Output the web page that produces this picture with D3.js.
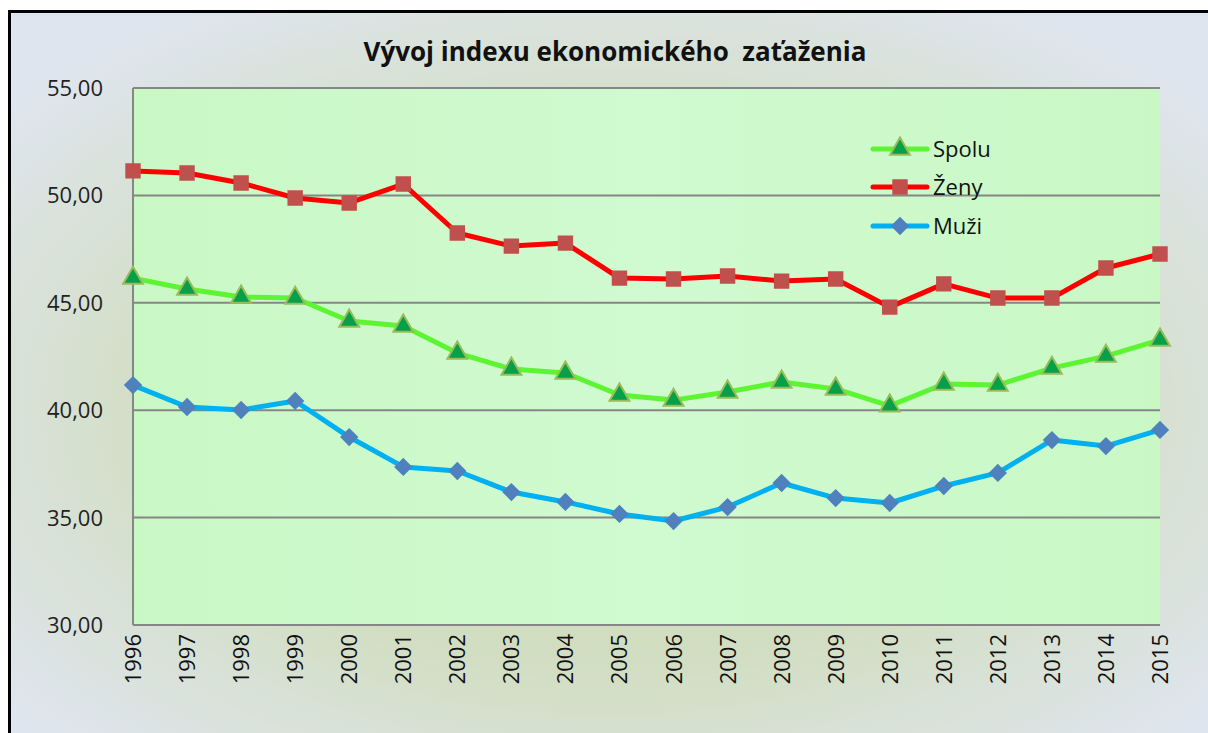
<!DOCTYPE html>
<html>
<head>
<meta charset="utf-8">
<script src="https://cdn.jsdelivr.net/npm/d3@7"></script>
<style>
  body { margin: 0; background: #fff; }
  svg { display: block; font-family: "Open Sans", "Noto Sans", sans-serif; }
</style>
</head>
<body>
<svg id="chart" width="1208" height="733"></svg>
<script>
var years = [1996, 1997, 1998, 1999, 2000, 2001, 2002, 2003, 2004, 2005,
             2006, 2007, 2008, 2009, 2010, 2011, 2012, 2013, 2014, 2015];
var spolu = [46.15, 45.64, 45.27, 45.22, 44.15, 43.92, 42.66, 41.92, 41.73, 40.71,
             40.47, 40.85, 41.31, 40.99, 40.20, 41.22, 41.17, 41.96, 42.52, 43.27];
var zeny  = [51.14, 51.04, 50.58, 49.88, 49.65, 50.53, 48.25, 47.64, 47.78, 46.15,
             46.11, 46.25, 46.01, 46.11, 44.80, 45.88, 45.22, 45.22, 46.62, 47.27];
var muzi  = [41.17, 40.15, 40.01, 40.43, 38.75, 37.36, 37.17, 36.19, 35.73, 35.17,
             34.84, 35.49, 36.61, 35.91, 35.68, 36.47, 37.08, 38.61, 38.33, 39.08];
var yTicks = [30, 35, 40, 45, 50, 55];
var title = "Vývoj indexu ekonomického  zaťaženia";

function draw() {
  var svg = d3.select("#chart");
  var defs = svg.append("defs");

  // outer background gradient
  var bg = defs.append("radialGradient").attr("id", "bg")
    .attr("cx", "50%").attr("cy", "55%").attr("r", "65%");
  bg.append("stop").attr("offset", "0%").attr("stop-color", "#c9d9a8");
  bg.append("stop").attr("offset", "55%").attr("stop-color", "#d2dec2");
  bg.append("stop").attr("offset", "100%").attr("stop-color", "#dfe5ee");

  var pg = defs.append("linearGradient").attr("id", "plotbg");
  pg.append("stop").attr("offset", "0%").attr("stop-color", "#c9f8c5");
  pg.append("stop").attr("offset", "50%").attr("stop-color", "#d0fad0");
  pg.append("stop").attr("offset", "100%").attr("stop-color", "#c9f8c5");

  svg.append("rect").attr("x", 10).attr("y", 12).attr("width", 1198).attr("height", 721)
    .attr("fill", "url(#bg)");
  // black frame (left and top)
  svg.append("path").attr("d", "M9.5,733V11.5H1208")
    .attr("stroke", "#000").attr("stroke-width", 3).attr("fill", "none");

  var pLeft = 133, pRight = 1160, pTop = 88, pBottom = 625;

  var x = d3.scalePoint().domain(years).range([pLeft, pRight]);
  var y = d3.scaleLinear().domain([30, 55]).range([pBottom, pTop]);

  svg.append("rect").attr("x", pLeft).attr("y", pTop)
    .attr("width", pRight - pLeft).attr("height", pBottom - pTop)
    .attr("fill", "url(#plotbg)");

  // gridlines
  svg.append("g").selectAll("line").data(yTicks).join("line")
    .attr("x1", pLeft).attr("x2", pRight)
    .attr("y1", d => y(d)).attr("y2", d => y(d))
    .attr("stroke", "#868686").attr("stroke-width", 2);
  svg.append("line").attr("x1", pLeft).attr("x2", pLeft)
    .attr("y1", pTop).attr("y2", pBottom)
    .attr("stroke", "#868686").attr("stroke-width", 2);

  // y labels
  svg.append("g").selectAll("text").data(yTicks).join("text")
    .attr("x", 103).attr("y", d => y(d) + 8)
    .attr("text-anchor", "end")
    .attr("font-size", 22).attr("fill", "#222")
    .text(d => d3.format(".2f")(d).replace(".", ","));

  // x labels (rotated)
  svg.append("g").selectAll("text").data(years).join("text")
    .attr("transform", d => "translate(" + (x(d) + 8) + "," + 634 + ") rotate(-90)")
    .attr("text-anchor", "end")
    .attr("font-size", 22).attr("fill", "#111")
    .text(d => d);

  // title
  svg.append("text").attr("x", 615).attr("y", 61)
    .attr("text-anchor", "middle").attr("font-size", 26).attr("font-weight", "bold")
    .attr("fill", "#111").attr("xml:space", "preserve")
    .text(title);

  // rot: marker rotation (diamond = square turned 45deg)
  var series = [
    { name: "Spolu", values: spolu, line: "#5df532", fill: "#05a049", stroke: "#9bbb59", shape: d3.symbolTriangle, size: 170, rot: 0 },
    { name: "Ženy", values: zeny, line: "#ff0000", fill: "#c0504d", stroke: "#c0504d", shape: d3.symbolSquare, size: 180, rot: 0 },
    { name: "Muži", values: muzi, line: "#00b0f0", fill: "#4f81bd", stroke: "#4f81bd", shape: d3.symbolSquare, size: 120, rot: 45 }
  ];

  var line = d3.line().x((d, i) => x(years[i])).y(d => y(d));

  series.forEach(function (s) {
    var g = svg.append("g");
    g.append("path").attr("d", line(s.values))
      .attr("fill", "none").attr("stroke", s.line).attr("stroke-width", 5)
      .attr("stroke-linejoin", "round");
    g.selectAll("path.m").data(s.values).join("path").attr("class", "m")
      .attr("transform", (d, i) => "translate(" + x(years[i]) + "," + y(d) + ") rotate(" + s.rot + ")")
      .attr("d", d3.symbol().type(s.shape).size(s.size))
      .attr("fill", s.fill).attr("stroke", s.stroke).attr("stroke-width", 2);
  });

  // legend
  var legendY = [149, 187, 226];
  series.forEach(function (s, i) {
    var g = svg.append("g").attr("transform", "translate(0," + legendY[i] + ")");
    g.append("line").attr("x1", 873).attr("x2", 927).attr("y1", 0).attr("y2", 0)
      .attr("stroke", s.line).attr("stroke-width", 5).attr("stroke-linecap", "round");
    g.append("path").attr("transform", "translate(900,0) rotate(" + s.rot + ")")
      .attr("d", d3.symbol().type(s.shape).size(s.size))
      .attr("fill", s.fill).attr("stroke", s.stroke).attr("stroke-width", 2);
    g.append("text").attr("x", 933).attr("y", 8)
      .attr("font-size", 22).attr("fill", "#111").text(s.name);
  });
}
draw();
</script>
</body>
</html>
